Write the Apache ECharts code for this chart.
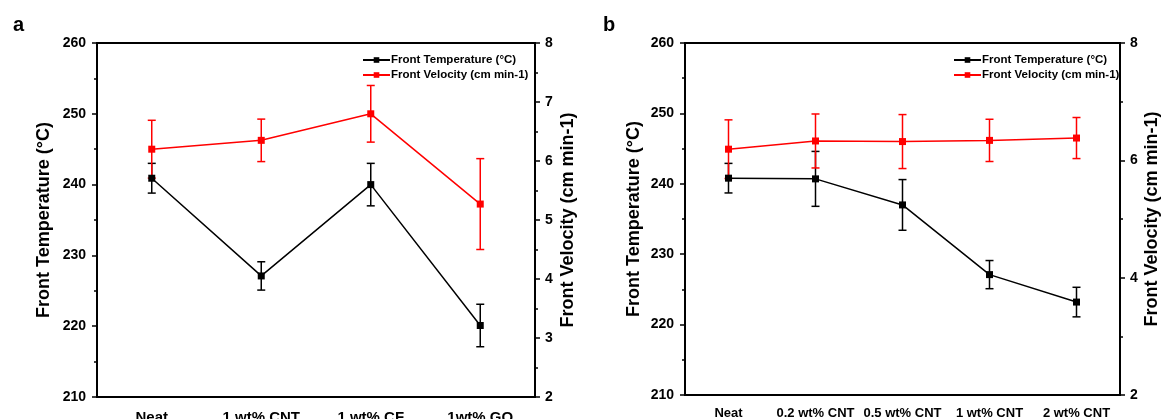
<!DOCTYPE html>
<html><head><meta charset="utf-8">
<script src="https://cdn.jsdelivr.net/npm/echarts@6/dist/echarts.min.js"></script>
<style>html,body{margin:0;padding:0;background:#fff}#c{width:1161px;height:419px}</style>
</head><body><div id="c"></div>
<script>
// ---- data ----
const categoriesA = ['Neat', '1 wt% CNT', '1 wt% CF', '1wt% GO'];
const tempA = [240.9, 227.1, 240.0, 220.1];
const tempErrA = [2.1, 2.0, 3.0, 3.0];
const velA = [6.20, 6.35, 6.80, 5.27];
const velErrA = [0.49, 0.36, 0.48, 0.77];

const categoriesB = ['Neat', '0.2 wt% CNT', '0.5 wt% CNT', '1 wt% CNT', '2 wt% CNT'];
const tempB = [240.8, 240.7, 237.0, 227.1, 223.2];
const tempErrB = [2.1, 3.9, 3.6, 2.0, 2.1];
const velB = [6.19, 6.33, 6.32, 6.34, 6.38];
const velErrB = [0.50, 0.46, 0.46, 0.36, 0.35];

const tempTicks = [210, 260, 10];   // min, max, interval
const velTicksA = [2, 8, 1];
const velTicksB = [2, 8, 2];

const nameT = 'Front Temperature (°C)';
const nameV = 'Front Velocity (cm min-1)';
const FONT = 'Liberation Sans, Arial, sans-serif';

function errData(vals, errs) { return vals.map((v, i) => [i, v - errs[i], v + errs[i]]); }

function errSeries(vals, errs, xi, yi, color) {
  return {
    type: 'custom', xAxisIndex: xi, yAxisIndex: yi, z: 3,
    data: errData(vals, errs), encode: { x: 0, y: [1, 2] }, silent: true,
    renderItem: function (params, api) {
      const x = api.value(0);
      const p1 = api.coord([x, api.value(1)]);
      const p2 = api.coord([x, api.value(2)]);
      const w = 4;
      const st = { stroke: color, lineWidth: 1.5 };
      return { type: 'group', children: [
        { type: 'line', shape: { x1: p1[0], y1: p1[1], x2: p2[0], y2: p2[1] }, style: st },
        { type: 'line', shape: { x1: p1[0] - w, y1: p1[1], x2: p1[0] + w, y2: p1[1] }, style: st },
        { type: 'line', shape: { x1: p2[0] - w, y1: p2[1], x2: p2[0] + w, y2: p2[1] }, style: st }
      ]};
    }
  };
}

function lineSeries(name, vals, xi, yi, color) {
  return {
    name: name, type: 'line', xAxisIndex: xi, yAxisIndex: yi, data: vals, z: 4,
    symbol: 'rect', symbolSize: 7, showSymbol: true,
    lineStyle: { color: color, width: 1.5 }, itemStyle: { color: color }
  };
}

function catAxes(cats, gi, fs, mg) {
  return [
    { type: 'category', gridIndex: gi, data: cats, boundaryGap: true,
      axisLine: { lineStyle: { color: '#000', width: 2 } },
      axisTick: { alignWithLabel: true, length: 5, lineStyle: { color: '#000', width: 1.5 } },
      axisLabel: { color: '#000', fontFamily: FONT, fontWeight: 'bold', fontSize: fs, margin: mg, interval: 0 },
      splitLine: { show: false } },
    { type: 'category', gridIndex: gi, data: cats, boundaryGap: true,
      axisLine: { show: false },
      axisTick: { length: 3, interval: 0, lineStyle: { color: '#000', width: 1.5 } },
      axisLabel: { show: false }, splitLine: { show: false } }
  ];
}

function valAxis(gi, pos, t, name, gap) {
  return {
    type: 'value', gridIndex: gi, position: pos, min: t[0], max: t[1], interval: t[2],
    name: name, nameLocation: 'middle', nameGap: gap, nameRotate: 90,
    nameTextStyle: { color: '#000', fontFamily: FONT, fontWeight: 'bold', fontSize: 18 },
    axisLine: { show: true, lineStyle: { color: '#000', width: 2 } },
    axisTick: { show: true, length: 5, lineStyle: { color: '#000', width: 1.5 } },
    minorTick: { show: true, splitNumber: 2, length: 3, lineStyle: { color: '#000', width: 1.5 } },
    axisLabel: { color: '#000', fontFamily: FONT, fontWeight: 'bold', fontSize: 14, margin: pos === 'left' ? 11 : 10 },
    splitLine: { show: false }
  };
}

const legendCommon = {
  orient: 'vertical', itemWidth: 27, itemHeight: 7, itemGap: 3,
  textStyle: { color: '#000', fontFamily: FONT, fontWeight: 'bold', fontSize: 11.5, padding: [0, 0, 0, -4] },
  data: [nameT, nameV]
};

const chart = echarts.init(document.getElementById('c'), null, { renderer: 'canvas' });
chart.setOption({
  animation: false,
  backgroundColor: '#fff',
  title: [
    { text: 'a', left: 8, top: 10, textStyle: { fontFamily: FONT, fontWeight: 'bold', fontSize: 20, color: '#000' } },
    { text: 'b', left: 598, top: 10, textStyle: { fontFamily: FONT, fontWeight: 'bold', fontSize: 20, color: '#000' } }
  ],
  legend: [
    Object.assign({ left: 357, top: 49 }, legendCommon),
    Object.assign({ left: 948, top: 49 }, legendCommon)
  ],
  grid: [
    { left: 97, top: 43, width: 438, height: 354, show: true, borderColor: '#000', borderWidth: 2,
      containLabel: false, outerBoundsMode: 'none' },
    { left: 685, top: 43, width: 435, height: 352, show: true, borderColor: '#000', borderWidth: 2,
      containLabel: false, outerBoundsMode: 'none' }
  ],
  xAxis: [].concat(catAxes(categoriesA, 0, 15, 13), catAxes(categoriesB, 1, 13, 12)),
  yAxis: [
    valAxis(0, 'left', tempTicks, nameT, 44),
    valAxis(0, 'right', velTicksA, nameV, 24),
    valAxis(1, 'left', tempTicks, nameT, 42),
    valAxis(1, 'right', velTicksB, nameV, 23)
  ],
  series: [
    lineSeries(nameT, tempA, 0, 0, '#000'),
    lineSeries(nameV, velA, 0, 1, '#ff0000'),
    errSeries(tempA, tempErrA, 0, 0, '#000'),
    errSeries(velA, velErrA, 0, 1, '#ff0000'),
    lineSeries(nameT, tempB, 2, 2, '#000'),
    lineSeries(nameV, velB, 2, 3, '#ff0000'),
    errSeries(tempB, tempErrB, 2, 2, '#000'),
    errSeries(velB, velErrB, 2, 3, '#ff0000')
  ]
});
</script></body></html>
